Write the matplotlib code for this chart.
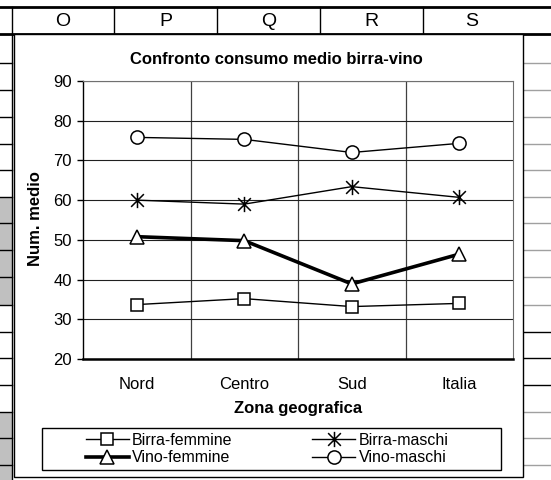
import matplotlib
matplotlib.use("Agg")
import matplotlib.pyplot as plt
from matplotlib.lines import Line2D
from matplotlib.patches import Rectangle
from matplotlib.path import Path

# dati del grafico
zone = ["Nord", "Centro", "Sud", "Italia"]
birra_femmine = [33.7, 35.2, 33.2, 34.0]
birra_maschi = [60.0, 59.0, 63.4, 60.7]
vino_femmine = [50.8, 49.8, 38.9, 46.4]
vino_maschi = [75.8, 75.3, 72.0, 74.3]
y_ticks = [20, 30, 40, 50, 60, 70, 80, 90]

# intestazioni colonne del foglio
col_letters = ["O", "P", "Q", "R", "S"]

W, H = 551, 480


def fx(x):
    return x / W


def fy(y):
    return 1 - y / H


def fig_line(fig, x0, y0, x1, y1, color="black", lw=1.0, z=-5):
    fig.add_artist(Line2D([fx(x0), fx(x1)], [fy(y0), fy(y1)],
                          transform=fig.transFigure, color=color, lw=lw, zorder=z))


def draw_sheet(fig):
    rows = [63, 90, 117, 144, 170, 197, 223, 250, 277, 305, 332, 358, 385, 412, 438, 465]
    # celle grigie a sinistra
    for y0, y1 in [(197, 305), (412, 480)]:
        fig.add_artist(Rectangle((0, fy(y1)), fx(12), (y1 - y0) / H,
                                 transform=fig.transFigure, fc="#c0c0c0", ec="none", zorder=-6))
    for y in rows:
        fig_line(fig, 0, y, 12, y, lw=1.0)
        c = "black" if y in (332, 358, 385) else "#a0a0a0"
        fig_line(fig, 523, y, W, y, color=c, lw=1.0)
    fig_line(fig, 12, 34, 12, 480, lw=1.0)

    # riga intestazioni
    fig_line(fig, 0, 7, W, 7, lw=2.0)
    fig_line(fig, 0, 34, W, 34, lw=2.0)
    bounds = [12, 114, 217, 320, 423, 521]
    for x in bounds[:-1]:
        fig_line(fig, x, 7, x, 34, lw=1.0)
    for i, letter in enumerate(col_letters):
        fig.text(fx((bounds[i] + bounds[i + 1]) / 2), fy(21), letter,
                 ha="center", va="center", fontsize=14, zorder=-4)

    # area del grafico
    fig.add_artist(Rectangle((fx(14), fy(477)), fx(523) - fx(14), (477 - 34) / H,
                             transform=fig.transFigure, fc="white", ec="black",
                             lw=1.0, zorder=-4))


def main() -> None:
    plt.rcParams["font.family"] = ["Liberation Sans", "DejaVu Sans"]

    fig = plt.figure(figsize=(W / 100, H / 100), dpi=100)
    draw_sheet(fig)

    ax = fig.add_axes([fx(83), fy(359), (513 - 83) / W, (359 - 81) / H])
    x = list(range(len(zone)))

    star = Path([(-1, -1), (1, 1), (-1, 1), (1, -1), (0, -1.2), (0, 1.2)],
                [Path.MOVETO, Path.LINETO, Path.MOVETO, Path.LINETO, Path.MOVETO, Path.LINETO])

    mk = dict(mfc="white", mec="black", mew=1.1, color="black")
    h1, = ax.plot(x, birra_femmine, marker="s", ms=9, lw=1.0, label="Birra-femmine", **mk)
    h2, = ax.plot(x, vino_femmine, marker="^", ms=10, lw=2.6, label="Vino-femmine", **mk)
    h3, = ax.plot(x, birra_maschi, marker=star, ms=11, lw=1.0, label="Birra-maschi", **mk)
    h4, = ax.plot(x, vino_maschi, marker="o", ms=9.5, lw=1.0, label="Vino-maschi", **mk)

    ax.set_xlim(-0.5, len(zone) - 0.5)
    ax.set_ylim(20, 90)
    ax.set_yticks(y_ticks)
    ax.set_xticks(x)
    ax.set_xticklabels(zone)
    ax.set_xticks([i + 0.5 for i in x[:-1]], minor=True)
    ax.tick_params(axis="x", which="both", length=0, pad=13, labelsize=12)
    ax.tick_params(axis="y", length=4, width=1, direction="out", pad=4, labelsize=12)

    ax.grid(axis="y", color="#202020", lw=0.8)
    ax.grid(axis="x", which="minor", color="#404040", lw=0.9)
    ax.set_axisbelow(True)

    ax.spines["left"].set_linewidth(1.0)
    ax.spines["bottom"].set_linewidth(1.8)
    ax.spines["top"].set_color("#707070")
    ax.spines["right"].set_color("#707070")

    fig.text(fx(276.5), fy(60), "Confronto consumo medio birra-vino",
             ha="center", va="center", fontsize=12, fontweight="bold")
    fig.text(fx(298), fy(409), "Zona geografica",
             ha="center", va="center", fontsize=12, fontweight="bold")
    fig.text(fx(36), fy(219), "Num. medio", rotation=90,
             ha="center", va="center", fontsize=12, fontweight="bold")

    fig.add_artist(Rectangle((fx(42), fy(470)), fx(501) - fx(42), (470 - 428) / H,
                             transform=fig.transFigure, fill=False, ec="black",
                             lw=1.0, zorder=-3))
    fig.legend([h1, h2, h3, h4],
               ["Birra-femmine", "Vino-femmine", "Birra-maschi", "Vino-maschi"],
               loc="center", bbox_to_anchor=(fx(267), fy(449)), ncol=2,
               frameon=False, fontsize=11.5, handlelength=2.7, handletextpad=0.2,
               columnspacing=5.0, labelspacing=0.15, borderpad=0.0)

    fig.savefig("out.png", dpi=100)


if __name__ == "__main__":
    main()
